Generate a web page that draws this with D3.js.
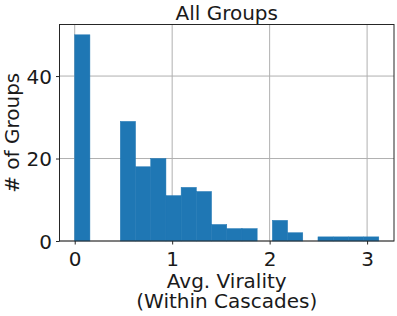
<!DOCTYPE html>
<html lang="en">
<head>
<meta charset="UTF-8">
<script src="https://d3js.org/d3.v7.min.js"></script>
<style>
    body { margin: 0; background: #fff; }
    svg { display: block; font-family: "DejaVu Sans", sans-serif; }
</style>
</head>
<body>
<svg width="397" height="316"></svg>
<script>
// histogram: 20 equal bins from 0 to 3.12
const binStart = 0;
const binEnd = 3.12;
const counts = [50, 0, 0, 29, 18, 20, 11, 13, 12, 4, 3, 3, 0, 5, 2, 0, 1, 1, 1, 1];
const xTicks = [0, 1, 2, 3];
const yTicks = [0, 20, 40];
const title = "All Groups";
const xLabel = ["Avg. Virality", "(Within Cascades)"];
const yLabel = "# of Groups";

const svg = d3.select("svg");
const m = { left: 59.5, right: 394, top: 24.5, bottom: 241 };

const binW = (binEnd - binStart) / counts.length;
const bins = counts.map((c, i) => ({ x0: binStart + i * binW, x1: binStart + (i + 1) * binW, n: c }));

const pad = (binEnd - binStart) * 0.05;
const x = d3.scaleLinear().domain([binStart - pad, binEnd + pad]).range([m.left, m.right]);
const y = d3.scaleLinear().domain([0, d3.max(counts) * 1.05]).range([m.bottom, m.top]);

// grid
const grid = svg.append("g").attr("stroke", "#b0b0b0").attr("stroke-width", 1);
grid.selectAll("line.gx").data(xTicks).join("line")
    .attr("x1", d => x(d)).attr("x2", d => x(d))
    .attr("y1", m.top).attr("y2", m.bottom);
grid.selectAll("line.gy").data(yTicks).join("line")
    .attr("x1", m.left).attr("x2", m.right)
    .attr("y1", d => y(d)).attr("y2", d => y(d));

// bars (thin same-colour stroke hides seams between neighbours)
svg.append("g").selectAll("rect")
    .data(bins.filter(b => b.n > 0))
    .join("rect")
    .attr("x", d => x(d.x0))
    .attr("width", d => x(d.x1) - x(d.x0))
    .attr("y", d => y(d.n))
    .attr("height", d => y(0) - y(d.n))
    .attr("fill", "#1f77b4")
    .attr("stroke", "#1f77b4").attr("stroke-width", 0.5);

// frame
svg.append("rect")
    .attr("x", m.left).attr("y", m.top)
    .attr("width", m.right - m.left).attr("height", m.bottom - m.top)
    .attr("fill", "none").attr("stroke", "#262626").attr("stroke-width", 1);

// axes
const xAxis = svg.append("g")
    .attr("transform", `translate(0,${m.bottom})`)
    .call(d3.axisBottom(x).tickValues(xTicks).tickFormat(d3.format("d")).tickSize(3.5).tickPadding(7));
const yAxis = svg.append("g")
    .attr("transform", `translate(${m.left},0)`)
    .call(d3.axisLeft(y).tickValues(yTicks).tickFormat(d3.format("d")).tickSize(3.5).tickPadding(4));
[xAxis, yAxis].forEach(a => {
    a.select(".domain").remove();
    a.selectAll("line").attr("stroke", "#262626");
    a.selectAll("text").attr("fill", "#1a1a1a")
        .style("font-size", "20px").style("font-family", "DejaVu Sans, sans-serif");
});
yAxis.selectAll("text").attr("dy", "0.36em");

// title
svg.append("text")
    .attr("x", (m.left + m.right) / 2).attr("y", 20)
    .attr("text-anchor", "middle").attr("font-size", 20).attr("fill", "#1a1a1a")
    .text(title);

// x label, two lines in one text
const cx = (m.left + m.right) / 2;
svg.append("text")
    .attr("x", cx).attr("y", 287.5)
    .attr("text-anchor", "middle").attr("font-size", 20).attr("fill", "#1a1a1a")
    .selectAll("tspan").data(xLabel).join("tspan")
    .attr("x", cx)
    .attr("dy", (d, i) => i === 0 ? 0 : 20)
    .text(d => d);

// y label
svg.append("text")
    .attr("transform", `translate(18.5,${(m.top + m.bottom) / 2}) rotate(-90)`)
    .attr("text-anchor", "middle").attr("font-size", 20).attr("fill", "#1a1a1a")
    .text(yLabel);
</script>
</body>
</html>
